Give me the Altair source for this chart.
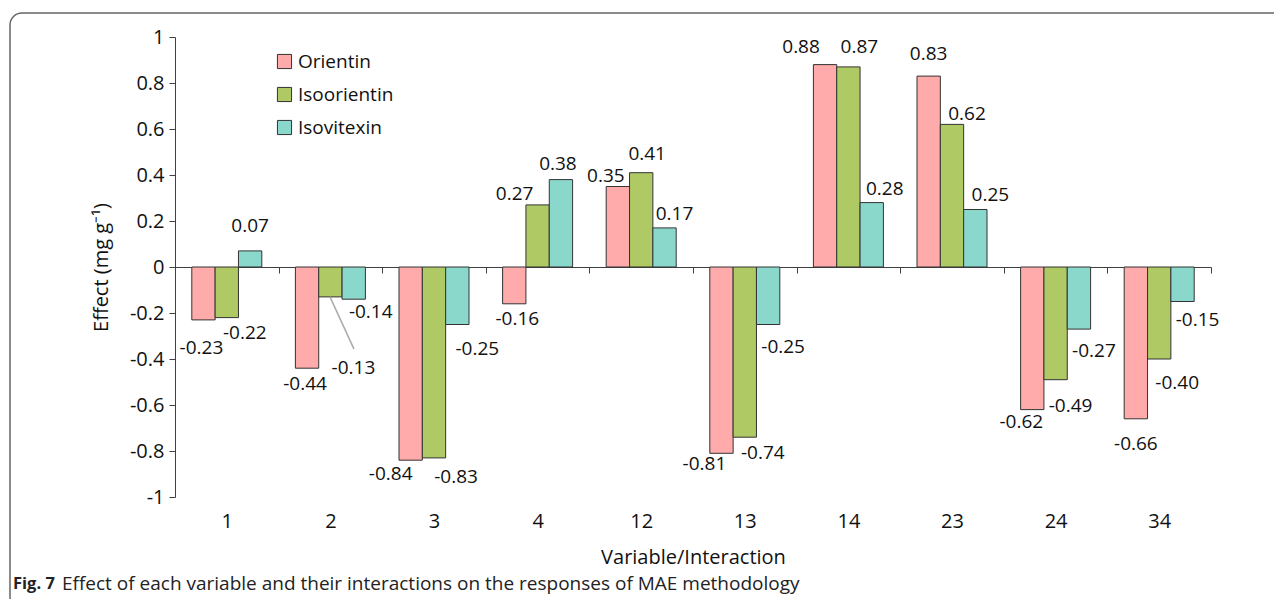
import altair as alt
import pandas as pd

categories = ["1", "2", "3", "4", "12", "13", "14", "23", "24", "34"]
series = ["Orientin", "Isoorientin", "Isovitexin"]
orientin = [-0.23, -0.44, -0.84, -0.16, 0.35, -0.81, 0.88, 0.83, -0.62, -0.66]
isoorientin = [-0.22, -0.13, -0.83, 0.27, 0.41, -0.74, 0.87, 0.62, -0.49, -0.40]
isovitexin = [0.07, -0.14, -0.25, 0.38, 0.17, -0.25, 0.28, 0.25, -0.27, -0.15]
y_ticks = [-1, -0.8, -0.6, -0.4, -0.2, 0, 0.2, 0.4, 0.6, 0.8, 1]

colors = ["#FFABAB", "#AFC964", "#8AD8CB"]
FONT = "Open Sans"

# label nudges (pixels) for each bar label: per category, (Orientin, Isoorientin, Isovitexin)
label_nudge = [
    [(-2, 28), (18, 15), (0, -25)],
    [(-2, 16), (23, 71), (17, 13)],
    [(-20, 14), (22, 19), (20, 24)],
    [(3, 15), (-23, -11), (-3, -16)],
    [(-12, -11), (6, -19), (10, -14)],
    [(-17, 11), (18, 16), (15, 22)],
    [(-24, -18), (11, -20), (13, -14)],
    [(0, -22), (15, -10), (15, -15)],
    [(-11, 12), (15, 26), (15, 22)],
    [(0, 25), (18, 24), (15, 18)],
]

rows = []
for s, vals in zip(series, [orientin, isoorientin, isovitexin]):
    for c, v in zip(categories, vals):
        rows.append({"var": c, "series": s, "value": v, "label": f"{v:.2f}"})
df = pd.DataFrame(rows)

W, H = 1036, 460

x_enc = alt.X(
    "var:N",
    sort=categories,
    scale=alt.Scale(paddingInner=0, paddingOuter=0),
    axis=alt.Axis(
        title="Variable/Interaction",
        offset=-230,
        tickBand="extent",
        tickSize=6,
        labelAngle=0,
        labelPadding=238,
        titlePadding=80,
        domainColor="#404040",
        tickColor="#404040",
        labelFont=FONT,
        labelFontSize=20,
        labelColor="#111",
        titleFont=FONT,
        titleFontSize=20,
        titleFontWeight="normal",
        titleColor="#111",
    ),
)
xoff_enc = alt.XOffset(
    "series:N", sort=series, scale=alt.Scale(paddingOuter=0.72, paddingInner=0)
)
y_enc = alt.Y(
    "value:Q",
    scale=alt.Scale(domain=[-1, 1], nice=False, zero=False),
    axis=alt.Axis(
        values=y_ticks,
        labelExpr="abs(datum.value) < 1e-9 ? '0' : (datum.value < 0 ? '-' + format(-datum.value, '.1~f') : format(datum.value, '.1~f'))",
        title="Effect (mg g⁻¹)",
        grid=False,
        tickSize=6,
        labelPadding=5,
        titlePadding=18,
        domainColor="#404040",
        tickColor="#404040",
        labelFont=FONT,
        labelFontSize=20,
        labelColor="#111",
        titleFont=FONT,
        titleFontSize=20,
        titleFontWeight="normal",
        titleColor="#111",
    ),
)

bars = alt.Chart(df).mark_bar(stroke="#333333", strokeWidth=1).encode(
    x=x_enc,
    xOffset=xoff_enc,
    y=y_enc,
    color=alt.Color(
        "series:N",
        sort=series,
        scale=alt.Scale(domain=series, range=colors),
        legend=alt.Legend(
            title=None,
            orient="none",
            legendX=100,
            legendY=15,
            symbolType="square",
            symbolSize=200,
            symbolStrokeColor="#333333",
            symbolStrokeWidth=1,
            labelFont=FONT,
            labelFontSize=19,
            labelColor="#111",
            labelOffset=4,
            rowPadding=13,
        ),
    ),
)

layers = [bars]
for ci, c in enumerate(categories):
    for si, s in enumerate(series):
        dx, dy = label_nudge[ci][si]
        layers.append(
            alt.Chart(df)
            .transform_filter((alt.datum.var == c) & (alt.datum.series == s))
            .mark_text(
                dx=dx, dy=dy, align="center", baseline="middle",
                font=FONT, fontSize=19, color="#111",
            )
            .encode(x=x_enc, xOffset=xoff_enc, y=y_enc, text="label:N")
        )

# leader line for the -0.13 label
leader = alt.Chart(pd.DataFrame({"a": [0]})).mark_rule(color="#aaaaaa", strokeWidth=1.5).encode(
    x=alt.value(155), x2=alt.value(179),
    y=alt.datum(-0.13), y2=alt.datum(-0.357),
)
layers.append(leader)

# figure frame
frame = alt.Chart(pd.DataFrame({"a": [0]})).mark_rect(
    fill=None, stroke="#666666", strokeWidth=1.5, cornerRadius=12, clip=False
).encode(
    x=alt.value(-165), x2=alt.value(1120), y=alt.value(-24), y2=alt.value(572)
)
cap_bold = alt.Chart(pd.DataFrame({"t": ["Fig. 7"]})).mark_text(
    align="left", baseline="middle", font=FONT, fontSize=16.5, fontWeight="bold", color="#222"
).encode(text="t:N", x=alt.value(-162), y=alt.value(547))
cap_text = alt.Chart(pd.DataFrame({"t": ["Effect of each variable and their interactions on the responses of MAE methodology"]})).mark_text(
    align="left", baseline="middle", font=FONT, fontSize=19, color="#222"
).encode(text="t:N", x=alt.value(-113), y=alt.value(547))

chart = alt.layer(frame, *layers, cap_bold, cap_text).properties(
    width=W,
    height=H,
    autosize=alt.AutoSizeParams(type="none"),
    padding={"left": 167, "top": 29, "right": 63, "bottom": 102},
).configure_view(stroke=None)

chart.save("out.html", embed_options={"renderer": "svg", "actions": False})
